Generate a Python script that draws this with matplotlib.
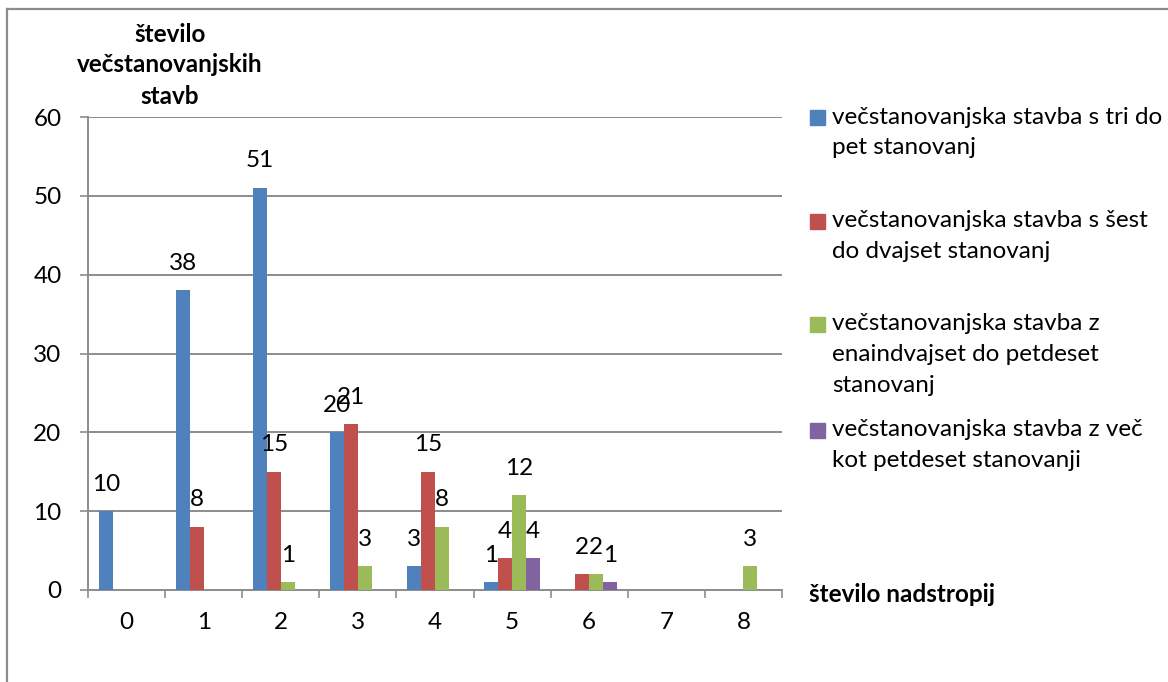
import numpy as np
import matplotlib.pyplot as plt
from matplotlib.patches import Rectangle
from matplotlib.lines import Line2D

BLUE, RED, GREEN, PURPLE = "#4F81BD", "#C0504D", "#9BBB59", "#8064A2"
GREY = "#8C8C8C"
FS = 17.5
plt.rcParams.update({"font.family": ["Lato", "DejaVu Sans"], "font.size": FS})

floors = ["0", "1", "2", "3", "4", "5", "6", "7", "8"]
tri_do_pet = [10, 38, 51, 20, 3, 1, np.nan, np.nan, np.nan]
sest_do_dvajset = [np.nan, 8, 15, 21, 15, 4, 2, np.nan, np.nan]
enaindvajset_do_petdeset = [np.nan, np.nan, 1, 3, 8, 12, 2, np.nan, 3]
vec_kot_petdeset = [np.nan, np.nan, np.nan, np.nan, np.nan, 4, 1, np.nan, np.nan]

series = [
    ("večstanovanjska stavba s tri do\npet stanovanj", tri_do_pet, BLUE),
    ("večstanovanjska stavba s šest\ndo dvajset stanovanj", sest_do_dvajset, RED),
    ("večstanovanjska stavba z\nenaindvajset do petdeset\nstanovanj", enaindvajset_do_petdeset, GREEN),
    ("večstanovanjska stavba z več\nkot petdeset stanovanji", vec_kot_petdeset, PURPLE),
]
y_title = "število\nvečstanovanjskih\nstavb"
x_title = "število nadstropij"

W, H = 1168, 682
fig = plt.figure(figsize=(W / 100, H / 100), dpi=100)
ax = fig.add_axes([88 / W, 1 - 590 / H, (782 - 88) / W, (590 - 117) / H])

x = np.arange(len(floors))
bw = 0.18
for i, (label, vals, color) in enumerate(series):
    vals = np.array(vals, dtype=float)
    pos = x + (i - 1.5) * bw
    ax.bar(pos, np.nan_to_num(vals), bw, color=color, zorder=3)
    for p, v in zip(pos, vals):
        if not np.isnan(v):
            ax.annotate(f"{v:.0f}", (p, v), xytext=(0, 19.5), textcoords="offset points",
                        ha="center", va="center", fontsize=FS)

ax.set_xlim(-0.5, len(floors) - 0.5)
ax.set_ylim(0, 60)
ax.set_yticks(range(0, 61, 10))
ax.yaxis.grid(True, color=GREY, lw=1.4, zorder=0)
ax.tick_params(axis="y", length=6, color=GREY, width=1.2, pad=13, labelsize=FS)

ax.set_xticks(np.arange(-0.5, len(floors), 1))
ax.set_xticklabels([])
ax.set_xticks(x, minor=True)
ax.set_xticklabels(floors, minor=True)
ax.tick_params(axis="x", which="major", length=6, color=GREY, width=1.2)
ax.tick_params(axis="x", which="minor", length=0, pad=16, labelsize=FS)

for s in ["top", "right"]:
    ax.spines[s].set_visible(False)
for s in ["left", "bottom"]:
    ax.spines[s].set_color(GREY)
    ax.spines[s].set_linewidth(1.4)

# axis titles
for k, line in enumerate(y_title.split("\n")):
    fig.text(170 / W, 1 - (34 + 31 * k) / H, line, ha="center", va="center",
             fontsize=FS, fontweight="bold")
fig.text(809 / W, 1 - 594 / H, x_title, ha="left", va="center", fontsize=FS, fontweight="bold")

# legend
first_y = [117, 221, 324, 430]
for (label, vals, color), y0 in zip(series, first_y):
    fig.patches.append(Rectangle((810 / W, 1 - (y0 + 8) / H), 15 / W, 15 / H,
                                 transform=fig.transFigure, color=color))
    for k, line in enumerate(label.split("\n")):
        fig.text(832 / W, 1 - (y0 + 30.5 * k) / H, line, ha="left", va="center", fontsize=FS)

# chart frame (top and left edges visible)
fig.add_artist(Line2D([7 / W, 1], [1 - 9 / H, 1 - 9 / H], transform=fig.transFigure,
                      color=GREY, lw=1.6))
fig.add_artist(Line2D([7 / W, 7 / W], [0, 1 - 9 / H], transform=fig.transFigure,
                      color=GREY, lw=1.6))

fig.savefig("out.png", dpi=100)
